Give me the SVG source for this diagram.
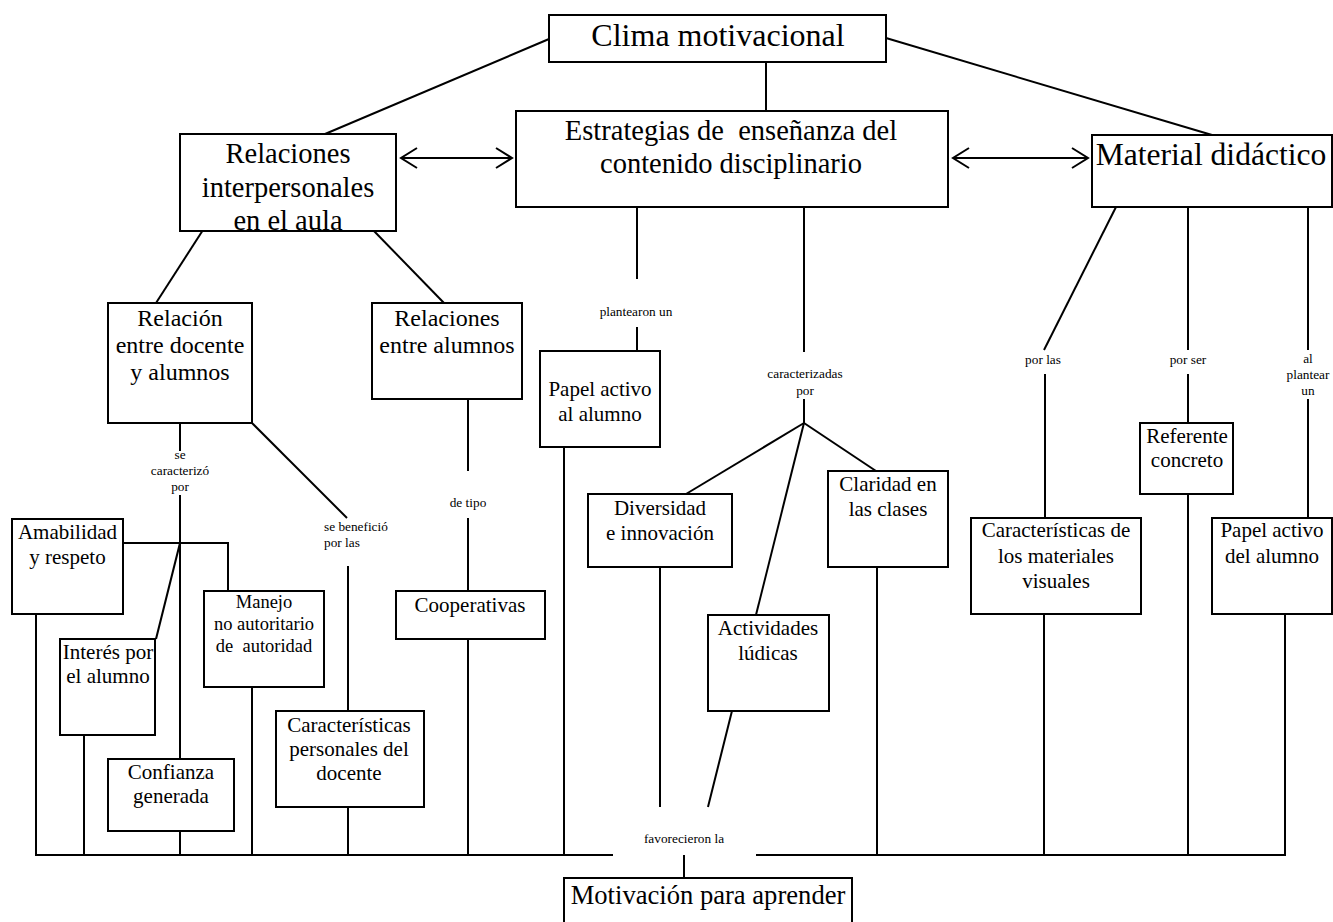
<svg xmlns="http://www.w3.org/2000/svg" width="1333" height="922" viewBox="0 0 1333 922">
<style>
.box{fill:#fff;stroke:#000;stroke-width:2}
.t{font-family:"Liberation Serif","Times New Roman",serif;fill:#000;text-anchor:middle}
.f32{font-size:32px}.f29{font-size:28.5px}.f24{font-size:24px}.f21{font-size:21px}.f18{font-size:18.5px}.f27{font-size:26.6px}
.s{font-family:"Liberation Serif","Times New Roman",serif;font-size:13.3px;fill:#000;text-anchor:middle}
.c line,.c polyline{stroke:#000;stroke-width:2;fill:none}
</style>
<defs>
<marker id="chev" markerWidth="20" markerHeight="24" refX="18" refY="12" orient="auto-start-reverse" markerUnits="userSpaceOnUse">
<path d="M2,2 L18,12 L2,22" fill="none" stroke="#000" stroke-width="2"/>
</marker>
</defs>
<rect width="1333" height="922" fill="#fff"/>
<g class="c" id="connectors">
<line x1="549" y1="39" x2="325" y2="134"/>
<line x1="766" y1="62" x2="766" y2="110"/>
<line x1="886" y1="38" x2="1212" y2="135"/>
<line x1="401" y1="158" x2="512" y2="158" marker-start="url(#chev)" marker-end="url(#chev)"/>
<line x1="953" y1="158" x2="1088" y2="158" marker-start="url(#chev)" marker-end="url(#chev)"/>
<line x1="203" y1="230" x2="156" y2="303"/>
<line x1="373" y1="230" x2="444" y2="303"/>
<line x1="180" y1="423" x2="180" y2="451"/>
<line x1="180" y1="495" x2="180" y2="759"/>
<polyline points="123,543 228,543 228,591"/>
<line x1="180" y1="543" x2="156" y2="639"/>
<line x1="252" y1="423" x2="347" y2="518"/>
<line x1="348" y1="566" x2="348" y2="711"/>
<line x1="468" y1="399" x2="468" y2="471"/>
<line x1="468" y1="518" x2="468" y2="591"/>
<line x1="637" y1="207" x2="637" y2="279"/>
<line x1="637" y1="327" x2="637" y2="351"/>
<line x1="804" y1="207" x2="804" y2="352"/>
<line x1="804" y1="399" x2="804" y2="423"/>
<line x1="804" y1="423" x2="686" y2="494"/>
<line x1="804" y1="423" x2="876" y2="471"/>
<line x1="804" y1="423" x2="756" y2="615"/>
<line x1="732" y1="711" x2="708" y2="807"/>
<line x1="660" y1="567" x2="660" y2="807"/>
<line x1="1116" y1="207" x2="1044" y2="350"/>
<line x1="1045" y1="374" x2="1045" y2="518"/>
<line x1="1188" y1="207" x2="1188" y2="350"/>
<line x1="1188" y1="374" x2="1188" y2="423"/>
<line x1="1308" y1="207" x2="1308" y2="350"/>
<line x1="1308" y1="399" x2="1308" y2="518"/>
<line x1="36" y1="614" x2="36" y2="855"/>
<line x1="84" y1="735" x2="84" y2="855"/>
<line x1="180" y1="831" x2="180" y2="855"/>
<line x1="252" y1="687" x2="252" y2="855"/>
<line x1="348" y1="807" x2="348" y2="855"/>
<line x1="468" y1="639" x2="468" y2="855"/>
<line x1="564" y1="447" x2="564" y2="855"/>
<line x1="877" y1="567" x2="877" y2="855"/>
<line x1="1044" y1="614" x2="1044" y2="855"/>
<line x1="1188" y1="494" x2="1188" y2="855"/>
<line x1="1285" y1="614" x2="1285" y2="855"/>
<line x1="35" y1="855" x2="613" y2="855"/>
<line x1="756" y1="855" x2="1286" y2="855"/>
<line x1="684" y1="855" x2="684" y2="878"/>
<text class="s" x="180" y="459">se</text>
<text class="s" x="180" y="475">caracterizó</text>
<text class="s" x="180" y="491">por</text>
<text class="s" x="324" y="531" style="text-anchor:start">se benefició</text>
<text class="s" x="324" y="547" style="text-anchor:start">por las</text>
<text class="s" x="468" y="507">de tipo</text>
<text class="s" x="636" y="316">plantearon un</text>
<text class="s" x="805" y="378">caracterizadas</text>
<text class="s" x="805" y="395">por</text>
<text class="s" x="1043" y="364">por las</text>
<text class="s" x="1188" y="364">por ser</text>
<text class="s" x="1308" y="363">al</text>
<text class="s" x="1308" y="379">plantear</text>
<text class="s" x="1308" y="395">un</text>
<text class="s" x="684" y="843">favorecieron la</text>
</g>
<g id="clima"><rect class="box" x="549" y="15" width="337" height="47"/><text class="t f32" x="718" y="46">Clima motivacional</text></g>
<g id="estrategias"><rect class="box" x="516" y="111" width="432" height="96"/><text class="t f29" x="731" y="140" xml:space="preserve">Estrategias de  enseñanza del</text><text class="t f29" x="731" y="173">contenido disciplinario</text></g>
<g id="relinter"><rect class="box" x="180" y="134" width="216" height="97"/><text class="t f29" x="288" y="163">Relaciones</text><text class="t f29" x="288" y="197">interpersonales</text><text class="t f29" x="288" y="230">en el aula</text></g>
<g id="material"><rect class="box" x="1092" y="135" width="240" height="72"/><text class="t f32" x="1211" y="165" style="font-size:31.6px">Material didáctico</text></g>
<g id="relacion"><rect class="box" x="108" y="303" width="144" height="120"/><text class="t f24" x="180" y="326">Relación</text><text class="t f24" x="180" y="353">entre docente</text><text class="t f24" x="180" y="380">y alumnos</text></g>
<g id="relaciones"><rect class="box" x="372" y="303" width="150" height="96"/><text class="t f24" x="447" y="326">Relaciones</text><text class="t f24" x="447" y="353">entre alumnos</text></g>
<g id="papel1"><rect class="box" x="540" y="351" width="120" height="96"/><text class="t f21" x="600" y="396">Papel activo</text><text class="t f21" x="600" y="421">al alumno</text></g>
<g id="amabilidad"><rect class="box" x="12" y="519" width="111" height="95"/><text class="t f21" x="67.5" y="539">Amabilidad</text><text class="t f21" x="67.5" y="564">y respeto</text></g>
<g id="interes"><rect class="box" x="60" y="639" width="95" height="96"/><text class="t f21" x="108" y="659">Interés por</text><text class="t f21" x="108" y="683">el alumno</text></g>
<g id="manejo"><rect class="box" x="204" y="591" width="120" height="96"/><text class="t f18" x="264" y="608">Manejo</text><text class="t f18" x="264" y="630">no autoritario</text><text class="t f18" x="264" y="652" xml:space="preserve">de  autoridad</text></g>
<g id="confianza"><rect class="box" x="108" y="759" width="126" height="72"/><text class="t f21" x="171" y="779">Confianza</text><text class="t f21" x="171" y="803">generada</text></g>
<g id="caractpers"><rect class="box" x="276" y="711" width="148" height="96"/><text class="t f21" x="349" y="732">Características</text><text class="t f21" x="349" y="756">personales del</text><text class="t f21" x="349" y="780">docente</text></g>
<g id="cooperativas"><rect class="box" x="396" y="591" width="149" height="48"/><text class="t f21" x="470" y="612">Cooperativas</text></g>
<g id="diversidad"><rect class="box" x="588" y="494" width="144" height="73"/><text class="t f21" x="660" y="515">Diversidad</text><text class="t f21" x="660" y="540">e innovación</text></g>
<g id="claridad"><rect class="box" x="828" y="471" width="120" height="96"/><text class="t f21" x="888" y="491">Claridad en</text><text class="t f21" x="888" y="516">las clases</text></g>
<g id="actividades"><rect class="box" x="708" y="615" width="121" height="96"/><text class="t f21" x="768" y="635">Actividades</text><text class="t f21" x="768" y="660">lúdicas</text></g>
<g id="caractmat"><rect class="box" x="971" y="518" width="170" height="96"/><text class="t f21" x="1056" y="537">Características de</text><text class="t f21" x="1056" y="563">los materiales</text><text class="t f21" x="1056" y="588">visuales</text></g>
<g id="referente"><rect class="box" x="1140" y="423" width="93" height="71"/><text class="t f21" x="1187" y="443">Referente</text><text class="t f21" x="1187" y="467">concreto</text></g>
<g id="papel2"><rect class="box" x="1212" y="518" width="120" height="96"/><text class="t f21" x="1272" y="537">Papel activo</text><text class="t f21" x="1272" y="563">del alumno</text></g>
<g id="motivacion"><rect class="box" x="564" y="878" width="288" height="60"/><text class="t f27" x="708" y="904">Motivación para aprender</text></g>
</svg>
